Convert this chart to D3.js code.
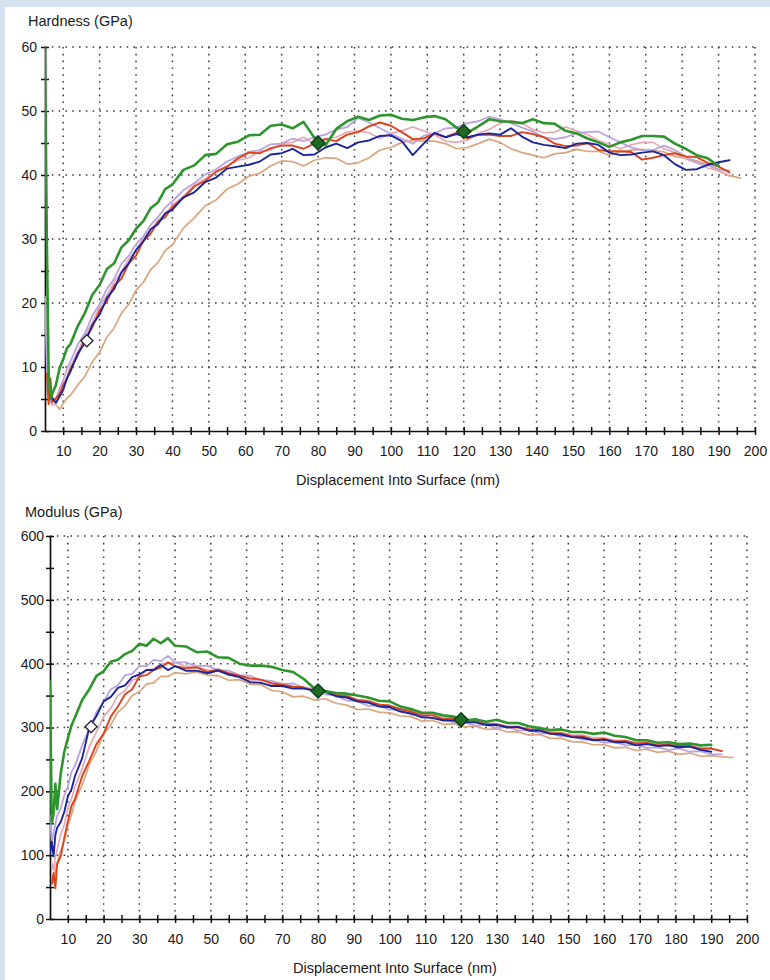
<!DOCTYPE html>
<html>
<head>
<meta charset="utf-8">
<script src="https://cdn.jsdelivr.net/npm/d3@7"></script>
<style>
  html, body { margin: 0; padding: 0; background: #d5e3f1; }
  svg { display: block; }
</style>
</head>
<body>
<svg id="chart" width="770" height="980"></svg>
<script>
// Displacement into surface (nm), shared by every test
const depth = [5, 5.5, 6, 6.5, 7, 8, 9, 10, 11, 12, 14, 16, 18, 20, 22, 24, 26, 28, 30, 32, 34, 36, 38, 40,
  43, 46, 49, 52, 55, 58, 61, 64, 67, 70, 73, 76, 79, 82, 85, 88, 91, 94, 97, 100, 103, 106, 109, 112, 115,
  118, 121, 124, 127, 130, 133, 136, 139, 142, 145, 148, 151, 154, 157, 160, 163, 166, 169, 172, 175, 178,
  181, 184, 187, 190, 193, 196];

// Hardness (GPa), one array per indent
const hardnessGreen = [60, 30, 9, 5, 5.8, 7.2, 9.8, 11.2, 12.9, 13.6, 16.4, 18.5, 21.3, 22.8, 25.3, 26.2, 28.7, 29.8,
  31.6, 32.8, 34.8, 35.7, 37.8, 38.5, 40.8, 41.5, 43.1, 43.3, 44.8, 45.2, 46.2, 46.3, 47.7, 47.9, 47.3, 48.3, 45.8,
  44.6, 47.2, 48.4, 49.1, 48.6, 49.3, 49.4, 48.8, 48.6, 49.0, 49.2, 48.7, 47.4, 46.6, 47.6, 48.7, 48.4, 48.3, 48.1,
  48.7, 48.1, 48.0, 46.9, 46.5, 45.7, 45.1, 44.4, 45.1, 45.5, 46.1, 46.1, 46.0, 44.9, 44.1, 43.1, 42.6, 41.4, null, null];
const hardnessBlue = [null, null, null, null, 5.2, 4.4, 5.4, 6.4, 8.2, 9.3, 12.1, 13.8, 16.6, 18.2, 20.8, 22.2, 24.8,
  26.2, 28.3, 29.6, 31.5, 32.3, 34.0, 34.6, 36.5, 37.3, 38.9, 39.6, 41.0, 41.3, 41.6, 42.1, 43.2, 43.4, 44.1, 43.1,
  43.2, 44.3, 44.9, 44.2, 45.1, 45.4, 46.1, 46.2, 45.3, 43.1, 44.9, 46.6, 45.9, 46.4, 45.9, 46.3, 46.5, 46.3, 47.3,
  46.0, 45.1, 44.7, 44.5, 44.2, 44.9, 45.0, 44.7, 43.5, 43.1, 43.2, 43.5, 43.7, 43.1, 41.7, 40.8, 40.9, 41.6, 42.0, 42.3, null];
const hardnessRed = [null, 9, 4.2, 8.2, 4.5, 5.1, 5.8, 7.2, 8.1, 9.7, 11.8, 14.3, 16.2, 18.8, 20.3, 22.7, 23.8, 26.2,
  27.4, 29.7, 30.8, 32.7, 33.4, 35.0, 36.4, 38.2, 39.1, 40.5, 41.3, 42.6, 43.5, 43.4, 44.2, 44.6, 44.6, 44.1, 44.9,
  45.6, 45.3, 46.3, 46.7, 47.6, 48.2, 47.7, 46.7, 45.6, 45.7, 46.5, 45.9, 46.6, 45.7, 46.3, 46.3, 46.1, 46.1, 46.7,
  46.4, 45.9, 44.9, 44.5, 44.6, 45.0, 43.9, 43.7, 43.7, 43.6, 42.4, 42.7, 43.1, 43.4, 42.9, 42.8, 41.9, 41.3, 40.4, null];
const hardnessLavender = [21, 10, 6.2, 4.4, 4.7, 5.0, 6.6, 7.9, 9.6, 10.9, 13.5, 15.3, 18.0, 19.8, 22.2, 23.8, 26.1,
  27.4, 29.2, 30.4, 32.2, 33.4, 34.9, 35.9, 37.6, 38.7, 40.1, 40.9, 42.1, 42.9, 43.6, 43.9, 44.8, 44.9, 45.7, 45.3,
  45.9, 46.3, 47.1, 47.5, 48.9, 48.2, 47.3, 46.4, 45.7, 44.9, 46.1, 46.5, 47.3, 47.4, 48.1, 48.4, 49.1, 48.7, 48.1,
  47.4, 46.8, 45.9, 45.6, 45.9, 46.6, 46.7, 46.8, 45.9, 45.1, 44.3, 43.9, 43.9, 44.6, 43.9, 42.9, 41.9, 41.6, 40.9, 40.7, null];
const hardnessTan = [null, null, null, null, null, 4.1, 3.4, 4.3, 5.1, 5.6, 7.2, 8.6, 10.8, 12.3, 14.7, 16.1, 18.4,
  19.8, 22.0, 23.2, 25.2, 26.3, 28.2, 29.1, 31.7, 33.3, 35.2, 36.1, 37.8, 38.6, 39.8, 40.3, 41.4, 42.2, 42.1, 41.4,
  42.3, 42.7, 42.6, 41.7, 41.9, 42.7, 43.9, 44.3, 45.1, 45.4, 45.3, 45.3, 44.9, 44.1, 44.3, 44.9, 45.6, 45.1, 44.1,
  43.5, 43.1, 42.7, 43.3, 43.5, 44.0, 43.7, 43.7, 43.1, 43.6, 43.9, 44.0, 43.8, 43.6, 42.9, 42.6, 42.2, 41.6, 40.6, 39.9, 39.5];
const hardnessPink = [null, null, 7, 5.1, 4.0, 4.3, 5.4, 7.1, 8.4, 10.1, 12.4, 14.9, 16.9, 19.4, 21.2, 23.3, 24.9,
  26.9, 28.2, 30.1, 31.4, 32.9, 33.9, 35.3, 36.7, 38.4, 39.4, 40.6, 41.4, 42.3, 42.7, 43.7, 43.9, 44.9, 45.1, 45.9,
  44.9, 45.7, 45.9, 46.7, 46.9, 46.6, 45.7, 46.5, 46.9, 47.5, 46.9, 46.3, 45.3, 45.1, 45.5, 46.5, 47.1, 48.1, 48.5,
  48.1, 47.1, 46.6, 46.7, 47.5, 46.9, 46.3, 45.4, 44.8, 44.1, 44.7, 45.1, 45.1, 44.1, 43.5, 42.5, 41.9, 41.1, 40.7, 39.9, null];

// Modulus (GPa), one array per indent
const modulusGreen = [372, 150, 165, 212, 172, 228, 262, 283, 303, 316, 343, 360, 381, 388, 403, 406, 415, 420, 431,
  428, 439, 432, 440, 428, 427, 418, 419, 410, 409, 400, 397, 397, 395, 390, 387, 376, 361, 357, 354, 353, 350, 347,
  342, 341, 333, 329, 323, 323, 319, 317, 311, 313, 309, 312, 307, 307, 302, 299, 296, 297, 293, 293, 290, 292, 287,
  285, 280, 280, 276, 277, 274, 275, 272, 273, null, null];
const modulusBlue = [103, 121, 98, 132, 143, 152, 168, 192, 203, 224, 252, 300, 318, 341, 348, 362, 366, 379, 383,
  390, 390, 398, 390, 396, 389, 389, 385, 389, 383, 379, 371, 370, 365, 365, 361, 361, 358, 356, 349, 347, 341, 339,
  333, 332, 325, 322, 316, 315, 311, 311, 308, 308, 304, 304, 300, 301, 295, 295, 290, 289, 285, 284, 280, 281, 277,
  277, 272, 274, 271, 272, 269, 270, 265, 262, null, null];
const modulusRed = [null, 55, 72, 48, 86, 98, 127, 153, 177, 188, 224, 248, 274, 290, 317, 333, 352, 360, 380, 382,
  390, 394, 402, 396, 393, 394, 387, 391, 385, 381, 377, 375, 369, 367, 364, 363, 357, 357, 351, 349, 343, 341, 336,
  334, 329, 325, 319, 319, 313, 314, 309, 310, 305, 305, 301, 300, 297, 296, 291, 291, 286, 286, 281, 282, 278, 279,
  275, 276, 272, 273, 271, 271, 267, 267, 263, null];
const modulusLavender = [162, 118, 137, 148, 162, 173, 194, 208, 230, 240, 272, 298, 324, 340, 360, 366, 382, 384,
  396, 396, 406, 404, 412, 402, 402, 396, 397, 390, 389, 382, 381, 374, 373, 368, 369, 362, 361, 352, 350, 342, 341,
  334, 334, 328, 328, 320, 319, 314, 314, 308, 308, 303, 304, 299, 301, 295, 296, 291, 291, 286, 286, 281, 281, 276,
  277, 272, 273, 268, 269, 265, 267, 262, 263, 258, 258, null];
const modulusTan = [null, null, 58, 76, 88, 107, 123, 147, 163, 184, 210, 242, 263, 290, 304, 324, 334, 350, 356,
  368, 370, 380, 380, 386, 384, 387, 382, 381, 374, 375, 368, 367, 358, 356, 348, 349, 343, 345, 338, 335, 328, 329,
  324, 323, 318, 317, 310, 311, 305, 306, 301, 302, 297, 298, 293, 293, 288, 289, 283, 283, 278, 277, 273, 273, 268,
  269, 264, 266, 261, 263, 258, 260, 255, 256, 254, 253];
const modulusPink = [null, 88, 76, 96, 108, 132, 148, 174, 188, 207, 236, 270, 293, 317, 330, 350, 358, 374, 378,
  390, 392, 400, 400, 402, 396, 395, 390, 389, 382, 381, 374, 375, 370, 369, 364, 363, 356, 357, 351, 351, 343, 343,
  336, 335, 328, 327, 320, 321, 315, 315, 311, 311, 307, 306, 302, 302, 298, 298, 293, 292, 288, 288, 284, 284, 280,
  280, 276, 277, 273, 274, 270, 271, 267, 267, 263, null];

// Axis ticks
const depthTicks = d3.range(10, 201, 10);
const depthMinorTicks = d3.range(10, 201, 5);
const hardnessTicks = [0, 10, 20, 30, 40, 50, 60];
const hardnessMinorTicks = d3.range(0, 61, 5);
const modulusTicks = [0, 100, 200, 300, 400, 500, 600];
const modulusMinorTicks = d3.range(0, 601, 50);

// Averaging-range markers: start of range (open) and range bounds (filled)
const markerDepth = [16.5, 80, 120];
const markerHardness = [14.1, 45.0, 46.8];
const markerModulus = [301, 357, 312];

const seriesColor = {
  tan: "#dba57e", pink: "#e7a9b6", lavender: "#b9a5dd",
  red: "#d9441c", blue: "#1b259c", green: "#2e952e"
};
const drawOrder = ["tan", "pink", "lavender", "red", "blue", "green"];
const seriesWidth = { tan: 1.7, pink: 1.7, lavender: 1.8, red: 1.9, blue: 1.9, green: 2.6 };

const svg = d3.select("#chart");
const FONT = "'Liberation Sans', Arial, Helvetica, sans-serif";

svg.append("rect").attr("x", 5).attr("y", 7).attr("width", 765).attr("height", 973).attr("fill", "#ffffff");

function drawPanel(o) {
  const g = svg.append("g");
  const x = o.x, y = o.y;
  const yMax = o.yTicks[o.yTicks.length - 1];

  // dotted grid
  const grid = g.append("g").attr("stroke", "#3d3d3d").attr("stroke-width", 1.5)
    .attr("stroke-dasharray", "1.6,5.2");
  grid.selectAll("line.v").data(depthTicks).join("line").attr("class", "v")
    .attr("x1", d => x(d)).attr("x2", d => x(d))
    .attr("y1", y(yMax)).attr("y2", y(0));
  grid.selectAll("line.h").data(o.yTicks.filter(t => t > 0)).join("line").attr("class", "h")
    .attr("x1", x(5)).attr("x2", x(200))
    .attr("y1", d => y(d)).attr("y2", d => y(d));

  // x axis with crossing ticks
  const gx = g.append("g").attr("transform", `translate(0,${y(0)})`)
    .call(d3.axisBottom(x).tickValues(depthMinorTicks).tickSizeInner(0).tickSizeOuter(0)
      .tickPadding(o.xPad).tickFormat(d => d % 10 === 0 ? d : ""));
  gx.attr("font-family", FONT).attr("font-size", 14);
  gx.select(".domain").attr("stroke", "#111").attr("stroke-width", 1.7);
  gx.selectAll(".tick line").attr("y1", -4).attr("y2", 4).attr("stroke", "#111").attr("stroke-width", 1.5);
  gx.selectAll(".tick text").attr("fill", "#1a1a1a");

  // y axis with crossing ticks
  const gy = g.append("g").attr("transform", `translate(${x(5)},0)`)
    .call(d3.axisLeft(y).tickValues(o.yMinor).tickSizeInner(0).tickSizeOuter(0)
      .tickPadding(o.yPad).tickFormat(d => o.yTicks.includes(d) ? d : ""));
  gy.attr("font-family", FONT).attr("font-size", 14);
  gy.select(".domain").attr("stroke", "#111").attr("stroke-width", 1.7);
  gy.selectAll(".tick line").attr("x1", -4).attr("x2", 4).attr("stroke", "#111").attr("stroke-width", 1.5);
  gy.selectAll(".tick text").attr("fill", "#1a1a1a");

  // titles
  g.append("text").attr("x", o.titleX).attr("y", o.titleY)
    .attr("font-family", FONT).attr("font-size", 14.5).attr("fill", "#1a1a1a").text(o.title);
  g.append("text").attr("x", o.xLabelX).attr("y", o.xLabelY).attr("text-anchor", "middle")
    .attr("font-family", FONT).attr("font-size", 14.5).attr("fill", "#1a1a1a")
    .text("Displacement Into Surface (nm)");

  // curves
  const clipId = "clip-" + o.key;
  svg.append("clipPath").attr("id", clipId).append("rect")
    .attr("x", x(5)).attr("y", y(yMax) - 1).attr("width", x(200) - x(5)).attr("height", y(0) - y(yMax) + 1);
  const line = d3.line().defined(d => d[1] != null).x(d => x(d[0])).y(d => y(d[1]));
  const curves = g.append("g").attr("clip-path", `url(#${clipId})`).attr("fill", "none")
    .attr("stroke-linejoin", "round").attr("stroke-linecap", "round");
  drawOrder.forEach(name => {
    const vals = o.series[name];
    curves.append("path")
      .datum(depth.map((d, i) => [d, vals[i]]))
      .attr("d", line)
      .attr("stroke", seriesColor[name])
      .attr("stroke-width", seriesWidth[name]);
  });

  // markers
  g.append("g").selectAll("path").data(markerDepth.map((d, i) => [d, o.markers[i], i])).join("path")
    .attr("d", d => d3.symbol(d3.symbolSquare, d[2] === 0 ? 72 : 98)())
    .attr("transform", d => `translate(${x(d[0])},${y(d[1])}) rotate(45)`)
    .attr("fill", d => d[2] === 0 ? "#ffffff" : "#1f6b26")
    .attr("stroke", d => d[2] === 0 ? "#2a2a3a" : "#0f3d14")
    .attr("stroke-width", 1.4);
}

drawPanel({
  key: "hardness",
  x: d3.scaleLinear().domain([5, 200]).range([45, 755]),
  y: d3.scaleLinear().domain([0, 60]).range([431, 47]),
  yTicks: hardnessTicks, yMinor: hardnessMinorTicks,
  xPad: 15, yPad: 8,
  title: "Hardness (GPa)", titleX: 28, titleY: 26,
  xLabelX: 398, xLabelY: 485,
  series: { green: hardnessGreen, blue: hardnessBlue, red: hardnessRed,
            lavender: hardnessLavender, tan: hardnessTan, pink: hardnessPink },
  markers: markerHardness
});

drawPanel({
  key: "modulus",
  x: d3.scaleLinear().domain([5, 200]).range([50, 747]),
  y: d3.scaleLinear().domain([0, 600]).range([919, 536]),
  yTicks: modulusTicks, yMinor: modulusMinorTicks,
  xPad: 15, yPad: 6,
  title: "Modulus (GPa)", titleX: 25, titleY: 517,
  xLabelX: 395, xLabelY: 973,
  series: { green: modulusGreen, blue: modulusBlue, red: modulusRed,
            lavender: modulusLavender, tan: modulusTan, pink: modulusPink },
  markers: markerModulus
});
</script>
</body>
</html>
